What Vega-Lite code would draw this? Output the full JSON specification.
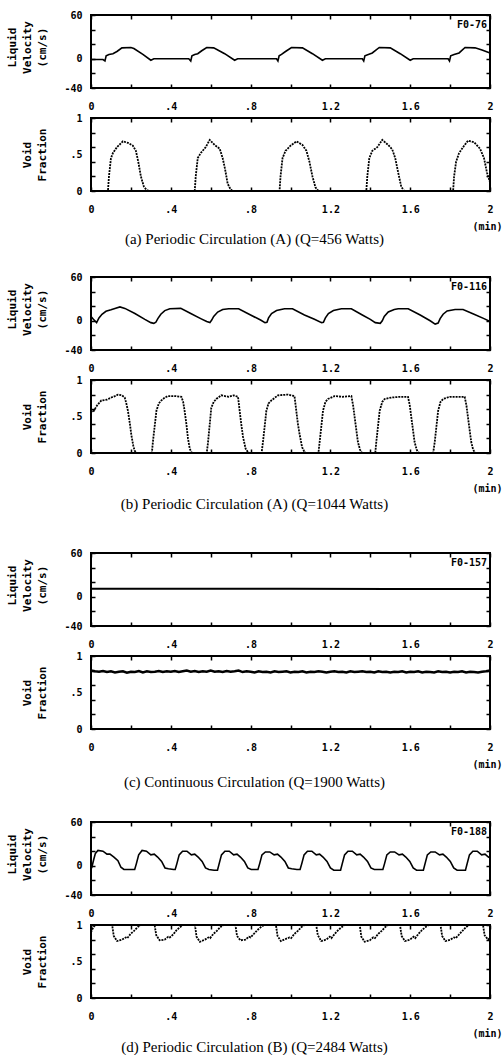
{
"$schema": "https://vega.github.io/schema/vega-lite/v6.json",
"padding": {"left": 5, "top": 9, "right": 0, "bottom": 0},
"config": {
 "view": {"stroke": "black", "strokeWidth": 2},
 "axis": {"domain": false, "grid": false, "tickColor": "black", "tickWidth": 1.5, "tickSize": -4, "labelFont": "DejaVu Sans Mono", "labelFontWeight": "bold", "labelFontSize": 10, "labelColor": "black", "labelOverlap": false, "labelFlush": false, "labelBound": false, "titleFont": "DejaVu Sans Mono", "titleFontWeight": "bold", "titleFontSize": 11, "titleColor": "black"},
 "axisTop": {"labels": false},
 "axisRight": {"labels": false},
 "axisBottom": {"labelPadding": 17},
 "axisLeft": {"labelPadding": 13},
 "title": {"font": "Liberation Serif", "fontSize": 15, "fontWeight": "normal", "color": "black"}
},
"datasets": {
 "velA": [{"t":0,"v":-1},{"t":0.06,"v":-1},{"t":0.07,"v":-3},{"t":0.076,"v":4},{"t":0.09,"v":6},{"t":0.11,"v":7},{"t":0.13,"v":10},{"t":0.155,"v":15},{"t":0.2,"v":15.5},{"t":0.215,"v":14},{"t":0.26,"v":6},{"t":0.3,"v":-2},{"t":0.315,"v":0},{"t":0.4,"v":0},{"t":0.49,"v":0},{"t":0.5,"v":-3},{"t":0.506,"v":4},{"t":0.52,"v":6},{"t":0.535,"v":7},{"t":0.555,"v":11},{"t":0.58,"v":15.5},{"t":0.615,"v":15},{"t":0.67,"v":7},{"t":0.72,"v":-2},{"t":0.735,"v":0},{"t":0.93,"v":0},{"t":0.937,"v":-3},{"t":0.943,"v":4},{"t":0.955,"v":6},{"t":0.975,"v":10},{"t":1.005,"v":15.5},{"t":1.06,"v":15},{"t":1.11,"v":7},{"t":1.16,"v":-2},{"t":1.175,"v":0},{"t":1.36,"v":0},{"t":1.367,"v":-3},{"t":1.373,"v":4},{"t":1.39,"v":6},{"t":1.41,"v":8},{"t":1.445,"v":15.5},{"t":1.5,"v":15},{"t":1.55,"v":7},{"t":1.6,"v":-2},{"t":1.615,"v":0},{"t":1.79,"v":0},{"t":1.797,"v":-3},{"t":1.803,"v":4},{"t":1.82,"v":6},{"t":1.845,"v":8},{"t":1.875,"v":15.5},{"t":1.925,"v":15},{"t":1.96,"v":12},{"t":2.0,"v":8}],
 "voidA": [{"t":0,"v":0},{"t":0.085,"v":0},{"t":0.09,"v":0.2},{"t":0.1,"v":0.45},{"t":0.11,"v":0.52},{"t":0.13,"v":0.6},{"t":0.16,"v":0.68},{"t":0.185,"v":0.66},{"t":0.21,"v":0.62},{"t":0.225,"v":0.55},{"t":0.237,"v":0.4},{"t":0.25,"v":0.2},{"t":0.265,"v":0.06},{"t":0.28,"v":0.01},{"t":0.3,"v":0},{"t":0.52,"v":0},{"t":0.525,"v":0.2},{"t":0.535,"v":0.45},{"t":0.55,"v":0.52},{"t":0.575,"v":0.6},{"t":0.595,"v":0.7},{"t":0.62,"v":0.63},{"t":0.645,"v":0.58},{"t":0.66,"v":0.45},{"t":0.672,"v":0.3},{"t":0.685,"v":0.1},{"t":0.7,"v":0.02},{"t":0.71,"v":0},{"t":0.945,"v":0},{"t":0.95,"v":0.2},{"t":0.96,"v":0.45},{"t":0.975,"v":0.55},{"t":1.0,"v":0.62},{"t":1.03,"v":0.68},{"t":1.06,"v":0.63},{"t":1.08,"v":0.55},{"t":1.095,"v":0.4},{"t":1.11,"v":0.2},{"t":1.125,"v":0.05},{"t":1.14,"v":0},{"t":1.38,"v":0},{"t":1.385,"v":0.2},{"t":1.395,"v":0.45},{"t":1.41,"v":0.55},{"t":1.435,"v":0.6},{"t":1.46,"v":0.7},{"t":1.49,"v":0.63},{"t":1.51,"v":0.57},{"t":1.525,"v":0.45},{"t":1.54,"v":0.25},{"t":1.555,"v":0.06},{"t":1.57,"v":0},{"t":1.815,"v":0},{"t":1.82,"v":0.2},{"t":1.83,"v":0.4},{"t":1.845,"v":0.52},{"t":1.87,"v":0.62},{"t":1.89,"v":0.69},{"t":1.92,"v":0.67},{"t":1.95,"v":0.58},{"t":1.97,"v":0.45},{"t":1.985,"v":0.25},{"t":2.0,"v":0.12}],
 "velB": [{"t":0,"v":6},{"t":0.012,"v":2},{"t":0.028,"v":-2.5},{"t":0.04,"v":4},{"t":0.055,"v":9},{"t":0.075,"v":13},{"t":0.1,"v":15},{"t":0.12,"v":17},{"t":0.145,"v":19},{"t":0.17,"v":17},{"t":0.22,"v":10},{"t":0.27,"v":2},{"t":0.3,"v":-2.5},{"t":0.315,"v":-3.5},{"t":0.325,"v":-2},{"t":0.335,"v":3},{"t":0.35,"v":9},{"t":0.37,"v":14},{"t":0.395,"v":16.5},{"t":0.45,"v":17},{"t":0.5,"v":10},{"t":0.55,"v":3},{"t":0.58,"v":-1},{"t":0.596,"v":-2.5},{"t":0.605,"v":1},{"t":0.615,"v":6},{"t":0.635,"v":12},{"t":0.66,"v":15.5},{"t":0.69,"v":16.5},{"t":0.74,"v":16.5},{"t":0.8,"v":8},{"t":0.85,"v":1},{"t":0.872,"v":-2.5},{"t":0.882,"v":-2},{"t":0.89,"v":4},{"t":0.905,"v":10},{"t":0.93,"v":14},{"t":0.97,"v":16.5},{"t":1.01,"v":16.5},{"t":1.07,"v":8},{"t":1.12,"v":2},{"t":1.156,"v":-2.5},{"t":1.165,"v":-2},{"t":1.175,"v":4},{"t":1.19,"v":10},{"t":1.215,"v":14},{"t":1.255,"v":16.5},{"t":1.305,"v":16.5},{"t":1.36,"v":8},{"t":1.4,"v":2},{"t":1.425,"v":-2.5},{"t":1.45,"v":-3.5},{"t":1.46,"v":0},{"t":1.47,"v":6},{"t":1.49,"v":12},{"t":1.52,"v":15.5},{"t":1.54,"v":16.5},{"t":1.59,"v":16.5},{"t":1.65,"v":8},{"t":1.7,"v":0},{"t":1.725,"v":-4.5},{"t":1.74,"v":-3},{"t":1.75,"v":3},{"t":1.765,"v":9},{"t":1.785,"v":13.5},{"t":1.825,"v":15.5},{"t":1.865,"v":15.5},{"t":1.92,"v":9},{"t":1.97,"v":3},{"t":2.0,"v":-1}],
 "voidB": [{"t":0,"v":0.58},{"t":0.01,"v":0.56},{"t":0.03,"v":0.65},{"t":0.052,"v":0.72},{"t":0.08,"v":0.73},{"t":0.102,"v":0.76},{"t":0.12,"v":0.78},{"t":0.135,"v":0.8},{"t":0.155,"v":0.79},{"t":0.169,"v":0.76},{"t":0.177,"v":0.68},{"t":0.185,"v":0.58},{"t":0.195,"v":0.4},{"t":0.202,"v":0.25},{"t":0.212,"v":0.1},{"t":0.219,"v":0.03},{"t":0.23,"v":0},{"t":0.305,"v":0},{"t":0.311,"v":0.17},{"t":0.328,"v":0.58},{"t":0.34,"v":0.68},{"t":0.353,"v":0.72},{"t":0.37,"v":0.76},{"t":0.386,"v":0.78},{"t":0.42,"v":0.78},{"t":0.453,"v":0.77},{"t":0.462,"v":0.7},{"t":0.469,"v":0.58},{"t":0.478,"v":0.4},{"t":0.486,"v":0.2},{"t":0.495,"v":0.06},{"t":0.503,"v":0.01},{"t":0.51,"v":0},{"t":0.58,"v":0},{"t":0.586,"v":0.13},{"t":0.603,"v":0.62},{"t":0.615,"v":0.7},{"t":0.628,"v":0.74},{"t":0.653,"v":0.79},{"t":0.69,"v":0.77},{"t":0.715,"v":0.79},{"t":0.737,"v":0.77},{"t":0.745,"v":0.58},{"t":0.753,"v":0.4},{"t":0.762,"v":0.22},{"t":0.775,"v":0.06},{"t":0.787,"v":0.01},{"t":0.795,"v":0},{"t":0.855,"v":0},{"t":0.862,"v":0.15},{"t":0.879,"v":0.58},{"t":0.89,"v":0.68},{"t":0.904,"v":0.72},{"t":0.937,"v":0.79},{"t":0.987,"v":0.8},{"t":1.02,"v":0.78},{"t":1.029,"v":0.58},{"t":1.037,"v":0.4},{"t":1.046,"v":0.25},{"t":1.058,"v":0.08},{"t":1.071,"v":0.01},{"t":1.08,"v":0},{"t":1.14,"v":0},{"t":1.146,"v":0.15},{"t":1.163,"v":0.58},{"t":1.175,"v":0.7},{"t":1.188,"v":0.74},{"t":1.221,"v":0.78},{"t":1.26,"v":0.77},{"t":1.305,"v":0.78},{"t":1.314,"v":0.65},{"t":1.322,"v":0.48},{"t":1.338,"v":0.15},{"t":1.348,"v":0.05},{"t":1.355,"v":0.01},{"t":1.365,"v":0},{"t":1.425,"v":0},{"t":1.43,"v":0.15},{"t":1.447,"v":0.58},{"t":1.46,"v":0.7},{"t":1.472,"v":0.74},{"t":1.506,"v":0.76},{"t":1.55,"v":0.77},{"t":1.589,"v":0.77},{"t":1.598,"v":0.65},{"t":1.606,"v":0.48},{"t":1.622,"v":0.15},{"t":1.632,"v":0.05},{"t":1.639,"v":0.01},{"t":1.65,"v":0},{"t":1.715,"v":0},{"t":1.723,"v":0.15},{"t":1.74,"v":0.58},{"t":1.752,"v":0.7},{"t":1.765,"v":0.74},{"t":1.798,"v":0.77},{"t":1.84,"v":0.77},{"t":1.873,"v":0.77},{"t":1.882,"v":0.65},{"t":1.89,"v":0.48},{"t":1.906,"v":0.15},{"t":1.915,"v":0.05},{"t":1.923,"v":0.01},{"t":1.93,"v":0},{"t":2.0,"v":0}],
 "velC": [{"t":0,"v":11},{"t":0.5,"v":11},{"t":1.0,"v":11},{"t":1.5,"v":10.8},{"t":2.0,"v":10.8}],
 "voidC": [{"t":0,"v":0.8},{"t":0.02,"v":0.79},{"t":0.04,"v":0.785},{"t":0.06,"v":0.795},{"t":0.08,"v":0.78},{"t":0.1,"v":0.79},{"t":0.12,"v":0.775},{"t":0.14,"v":0.785},{"t":0.16,"v":0.79},{"t":0.18,"v":0.77},{"t":0.2,"v":0.785},{"t":0.22,"v":0.78},{"t":0.24,"v":0.795},{"t":0.26,"v":0.775},{"t":0.28,"v":0.79},{"t":0.3,"v":0.78},{"t":0.32,"v":0.785},{"t":0.34,"v":0.795},{"t":0.36,"v":0.78},{"t":0.38,"v":0.79},{"t":0.4,"v":0.785},{"t":0.42,"v":0.795},{"t":0.44,"v":0.78},{"t":0.46,"v":0.79},{"t":0.48,"v":0.8},{"t":0.5,"v":0.785},{"t":0.52,"v":0.795},{"t":0.54,"v":0.78},{"t":0.56,"v":0.79},{"t":0.58,"v":0.785},{"t":0.6,"v":0.8},{"t":0.62,"v":0.785},{"t":0.64,"v":0.79},{"t":0.66,"v":0.78},{"t":0.68,"v":0.795},{"t":0.7,"v":0.785},{"t":0.72,"v":0.79},{"t":0.74,"v":0.8},{"t":0.76,"v":0.78},{"t":0.78,"v":0.79},{"t":0.8,"v":0.785},{"t":0.82,"v":0.775},{"t":0.84,"v":0.79},{"t":0.86,"v":0.78},{"t":0.88,"v":0.785},{"t":0.9,"v":0.775},{"t":0.92,"v":0.79},{"t":0.94,"v":0.78},{"t":0.96,"v":0.785},{"t":0.98,"v":0.79},{"t":1.0,"v":0.775},{"t":1.02,"v":0.785},{"t":1.04,"v":0.78},{"t":1.06,"v":0.79},{"t":1.08,"v":0.775},{"t":1.1,"v":0.785},{"t":1.12,"v":0.78},{"t":1.14,"v":0.79},{"t":1.16,"v":0.785},{"t":1.18,"v":0.775},{"t":1.2,"v":0.785},{"t":1.22,"v":0.79},{"t":1.24,"v":0.78},{"t":1.26,"v":0.785},{"t":1.28,"v":0.775},{"t":1.3,"v":0.79},{"t":1.32,"v":0.78},{"t":1.34,"v":0.785},{"t":1.36,"v":0.79},{"t":1.38,"v":0.78},{"t":1.4,"v":0.785},{"t":1.42,"v":0.775},{"t":1.44,"v":0.79},{"t":1.46,"v":0.78},{"t":1.48,"v":0.785},{"t":1.5,"v":0.775},{"t":1.52,"v":0.785},{"t":1.54,"v":0.78},{"t":1.56,"v":0.79},{"t":1.58,"v":0.775},{"t":1.6,"v":0.785},{"t":1.62,"v":0.78},{"t":1.64,"v":0.79},{"t":1.66,"v":0.775},{"t":1.68,"v":0.785},{"t":1.7,"v":0.78},{"t":1.72,"v":0.775},{"t":1.74,"v":0.79},{"t":1.76,"v":0.78},{"t":1.78,"v":0.785},{"t":1.8,"v":0.775},{"t":1.82,"v":0.785},{"t":1.84,"v":0.78},{"t":1.86,"v":0.79},{"t":1.88,"v":0.775},{"t":1.9,"v":0.785},{"t":1.92,"v":0.78},{"t":1.94,"v":0.775},{"t":1.96,"v":0.785},{"t":1.98,"v":0.79},{"t":2.0,"v":0.8}],
 "velD": [{"t":0,"v":5},{"t":0.006,"v":0},{"t":0.013,"v":8},{"t":0.022,"v":17},{"t":0.035,"v":21},{"t":0.06,"v":20},{"t":0.08,"v":16},{"t":0.095,"v":16},{"t":0.115,"v":12},{"t":0.135,"v":7},{"t":0.15,"v":-2},{"t":0.165,"v":-5},{"t":0.21,"v":-5},
  {"t":0.219,"v":-5},{"t":0.2275,"v":3},{"t":0.239,"v":15},{"t":0.256,"v":21},{"t":0.278,"v":20},{"t":0.3,"v":15},{"t":0.317,"v":16},{"t":0.334,"v":12},{"t":0.354,"v":6},{"t":0.371,"v":-3},{"t":0.388,"v":-4},{"t":0.414,"v":-5},
  {"t":0.422,"v":-5},{"t":0.4305,"v":3},{"t":0.442,"v":15},{"t":0.459,"v":20},{"t":0.481,"v":20},{"t":0.503,"v":15},{"t":0.52,"v":16},{"t":0.537,"v":12},{"t":0.557,"v":6},{"t":0.574,"v":-3},{"t":0.591,"v":-5},{"t":0.617,"v":-6},
  {"t":0.634,"v":-6},{"t":0.6425,"v":3},{"t":0.654,"v":15},{"t":0.671,"v":20},{"t":0.693,"v":20},{"t":0.715,"v":15},{"t":0.732,"v":16},{"t":0.749,"v":12},{"t":0.769,"v":6},{"t":0.786,"v":-3},{"t":0.803,"v":-5},{"t":0.829,"v":-5},
  {"t":0.837,"v":-5},{"t":0.8455,"v":3},{"t":0.857,"v":15},{"t":0.874,"v":19},{"t":0.896,"v":19},{"t":0.918,"v":15},{"t":0.935,"v":16},{"t":0.952,"v":12},{"t":0.972,"v":6},{"t":0.989,"v":-3},{"t":1.006,"v":-4},{"t":1.032,"v":-5},
  {"t":1.048,"v":-5},{"t":1.0565,"v":3},{"t":1.068,"v":15},{"t":1.085,"v":20},{"t":1.107,"v":20},{"t":1.129,"v":15},{"t":1.146,"v":16},{"t":1.163,"v":12},{"t":1.183,"v":6},{"t":1.2,"v":-3},{"t":1.217,"v":-6},{"t":1.243,"v":-6},
  {"t":1.251,"v":-6},{"t":1.2595,"v":3},{"t":1.271,"v":15},{"t":1.288,"v":20},{"t":1.31,"v":20},{"t":1.332,"v":15},{"t":1.349,"v":16},{"t":1.366,"v":12},{"t":1.386,"v":6},{"t":1.403,"v":-3},{"t":1.42,"v":-5},{"t":1.446,"v":-5},
  {"t":1.463,"v":-5},{"t":1.4715,"v":3},{"t":1.483,"v":15},{"t":1.5,"v":19},{"t":1.522,"v":19},{"t":1.544,"v":15},{"t":1.561,"v":16},{"t":1.578,"v":12},{"t":1.598,"v":6},{"t":1.615,"v":-3},{"t":1.632,"v":-6},{"t":1.658,"v":-6},
  {"t":1.666,"v":-6},{"t":1.6745,"v":3},{"t":1.686,"v":15},{"t":1.703,"v":19},{"t":1.725,"v":19},{"t":1.747,"v":15},{"t":1.764,"v":16},{"t":1.781,"v":12},{"t":1.801,"v":6},{"t":1.818,"v":-3},{"t":1.835,"v":-6},{"t":1.861,"v":-6},
  {"t":1.877,"v":-6},{"t":1.8855,"v":3},{"t":1.897,"v":15},{"t":1.914,"v":20},{"t":1.936,"v":20},{"t":1.958,"v":15},{"t":1.975,"v":16},{"t":1.992,"v":12},{"t":2.0,"v":11}],
 "voidD": [{"t":0,"v":0.9},{"t":0.008,"v":0.95},{"t":0.02,"v":1},
  {"t":0.106,"v":1},{"t":0.114,"v":0.85},{"t":0.131,"v":0.78},{"t":0.156,"v":0.8},{"t":0.174,"v":0.83},{"t":0.182,"v":0.82},{"t":0.199,"v":0.88},{"t":0.216,"v":0.92},{"t":0.233,"v":0.97},{"t":0.249,"v":1},
  {"t":0.319,"v":1},{"t":0.327,"v":0.86},{"t":0.344,"v":0.79},{"t":0.369,"v":0.8},{"t":0.387,"v":0.84},{"t":0.395,"v":0.83},{"t":0.412,"v":0.87},{"t":0.429,"v":0.93},{"t":0.446,"v":0.97},{"t":0.462,"v":1},
  {"t":0.521,"v":1},{"t":0.529,"v":0.84},{"t":0.546,"v":0.77},{"t":0.571,"v":0.8},{"t":0.589,"v":0.83},{"t":0.597,"v":0.82},{"t":0.614,"v":0.88},{"t":0.631,"v":0.92},{"t":0.648,"v":0.97},{"t":0.664,"v":1},
  {"t":0.724,"v":1},{"t":0.732,"v":0.85},{"t":0.749,"v":0.79},{"t":0.774,"v":0.8},{"t":0.792,"v":0.84},{"t":0.8,"v":0.83},{"t":0.817,"v":0.88},{"t":0.834,"v":0.93},{"t":0.851,"v":0.97},{"t":0.867,"v":1},
  {"t":0.927,"v":1},{"t":0.935,"v":0.85},{"t":0.952,"v":0.78},{"t":0.977,"v":0.81},{"t":0.995,"v":0.83},{"t":1.003,"v":0.82},{"t":1.02,"v":0.88},{"t":1.037,"v":0.92},{"t":1.054,"v":0.97},{"t":1.07,"v":1},
  {"t":1.129,"v":1},{"t":1.137,"v":0.86},{"t":1.154,"v":0.78},{"t":1.179,"v":0.8},{"t":1.197,"v":0.84},{"t":1.205,"v":0.82},{"t":1.222,"v":0.88},{"t":1.239,"v":0.93},{"t":1.256,"v":0.97},{"t":1.272,"v":1},
  {"t":1.347,"v":1},{"t":1.355,"v":0.84},{"t":1.372,"v":0.77},{"t":1.397,"v":0.79},{"t":1.415,"v":0.83},{"t":1.423,"v":0.82},{"t":1.44,"v":0.88},{"t":1.457,"v":0.92},{"t":1.474,"v":0.97},{"t":1.49,"v":1},
  {"t":1.549,"v":1},{"t":1.557,"v":0.85},{"t":1.574,"v":0.78},{"t":1.599,"v":0.8},{"t":1.617,"v":0.84},{"t":1.625,"v":0.82},{"t":1.642,"v":0.88},{"t":1.659,"v":0.93},{"t":1.676,"v":0.97},{"t":1.692,"v":1},
  {"t":1.752,"v":1},{"t":1.76,"v":0.85},{"t":1.777,"v":0.78},{"t":1.802,"v":0.8},{"t":1.82,"v":0.83},{"t":1.828,"v":0.82},{"t":1.845,"v":0.87},{"t":1.862,"v":0.92},{"t":1.879,"v":0.97},{"t":1.895,"v":1},
  {"t":1.965,"v":1},{"t":1.973,"v":0.86},{"t":1.99,"v":0.8},{"t":2.0,"v":0.82}]
},
"spacing": 35,
"vconcat": [
 {"spacing": 24,
  "vconcat": [
 {"title": {"text": "(a) Periodic Circulation (A) (Q=456 Watts)", "orient": "bottom", "anchor": "middle", "frame": "bounds", "offset": 0},
  "spacing": 0,
  "vconcat": [
   {"width": 399, "height": 73, "data": {"name": "velA"},
    "layer": [
     {"mark": {"type": "line", "color": "black", "strokeWidth": 1.6},
      "encoding": {
       "x": {"field": "t", "type": "quantitative", "scale": {"domain": [0, 2], "nice": false}, "axis": {"orient": "bottom", "title": null, "values": [0,0.2,0.4,0.6,0.8,1,1.2,1.4,1.6,1.8,2], "labelExpr": "datum.value==0?'0':datum.value==2?'2':(round(datum.value*10)%4==0?replace(format(datum.value,'.1f'),'0.','.'):'')"}},
       "y": {"field": "v", "type": "quantitative", "scale": {"domain": [-40, 60], "nice": false}, "axis": {"orient": "left", "values": [-40,-20,0,20,40,60], "labelExpr": "datum.value==60?'60':datum.value==0?'0':datum.value==-40?'-40':''", "title": ["Liquid", "Velocity", "(cm/s)"], "titlePadding": 16, "titleLineHeight": 15, "titleY": 32}}}},
     {"mark": {"type": "line", "opacity": 0},
      "encoding": {
       "x": {"field": "t", "type": "quantitative", "axis": {"orient": "top", "title": null, "values": [0,0.2,0.4,0.6,0.8,1,1.2,1.4,1.6,1.8,2]}},
       "y": {"field": "v", "type": "quantitative", "axis": {"orient": "right", "title": null, "values": [-40,-20,0,20,40,60]}}}},
     {"data": {"values": [{"t": 1.985, "v": 46, "run": "F0-76"}]},
      "mark": {"type": "text", "align": "right", "baseline": "middle", "font": "DejaVu Sans Mono", "fontWeight": "bold", "fontSize": 10, "color": "black"},
      "encoding": {"x": {"field": "t", "type": "quantitative", "axis": null}, "y": {"field": "v", "type": "quantitative", "axis": null}, "text": {"field": "run"}}}
    ],
    "resolve": {"axis": {"x": "independent", "y": "independent"}}},
   {"width": 399, "height": 73, "data": {"name": "voidA"},
    "layer": [
     {"mark": {"type": "line", "color": "black", "strokeWidth": 1.8, "strokeDash": [2, 1]},
      "encoding": {
       "x": {"field": "t", "type": "quantitative", "scale": {"domain": [0, 2], "nice": false}, "axis": {"orient": "bottom", "values": [0,0.2,0.4,0.6,0.8,1,1.2,1.4,1.6,1.8,2], "labelExpr": "datum.value==0?'0':datum.value==2?'2':(round(datum.value*10)%4==0?replace(format(datum.value,'.1f'),'0.','.'):'')", "title": "(min)", "titleFontSize": 10, "titleX": 411, "titleY": 35, "titleAlign": "right", "titleBaseline": "middle", "titleAngle": 0}},
       "y": {"field": "v", "type": "quantitative", "scale": {"domain": [0, 1], "nice": false}, "axis": {"orient": "left", "values": [0,0.2,0.4,0.5,0.6,0.8,1], "labelExpr": "datum.value==1?'1':datum.value==0.5?'.5':datum.value==0?'0':''", "tickOpacity": {"condition": {"test": "datum.value==0.5", "value": 0}, "value": 1}, "title": ["Void", "Fraction"], "titlePadding": 22, "titleLineHeight": 15}}}},
     {"mark": {"type": "line", "opacity": 0},
      "encoding": {
       "x": {"field": "t", "type": "quantitative", "axis": {"orient": "top", "title": null, "values": [0,0.2,0.4,0.6,0.8,1,1.2,1.4,1.6,1.8,2]}},
       "y": {"field": "v", "type": "quantitative", "axis": {"orient": "right", "title": null, "values": [0,0.2,0.4,0.6,0.8,1]}}}}
    ],
    "resolve": {"axis": {"x": "independent", "y": "independent"}}}
  ]},
 {"title": {"text": "(b) Periodic Circulation (A) (Q=1044 Watts)", "orient": "bottom", "anchor": "middle", "frame": "bounds", "offset": 3},
  "spacing": 0,
  "vconcat": [
   {"width": 399, "height": 73, "data": {"name": "velB"},
    "layer": [
     {"mark": {"type": "line", "color": "black", "strokeWidth": 1.6},
      "encoding": {
       "x": {"field": "t", "type": "quantitative", "scale": {"domain": [0, 2], "nice": false}, "axis": {"orient": "bottom", "title": null, "values": [0,0.2,0.4,0.6,0.8,1,1.2,1.4,1.6,1.8,2], "labelExpr": "datum.value==0?'0':datum.value==2?'2':(round(datum.value*10)%4==0?replace(format(datum.value,'.1f'),'0.','.'):'')"}},
       "y": {"field": "v", "type": "quantitative", "scale": {"domain": [-40, 60], "nice": false}, "axis": {"orient": "left", "values": [-40,-20,0,20,40,60], "labelExpr": "datum.value==60?'60':datum.value==0?'0':datum.value==-40?'-40':''", "title": ["Liquid", "Velocity", "(cm/s)"], "titlePadding": 16, "titleLineHeight": 15, "titleY": 32}}}},
     {"mark": {"type": "line", "opacity": 0},
      "encoding": {
       "x": {"field": "t", "type": "quantitative", "axis": {"orient": "top", "title": null, "values": [0,0.2,0.4,0.6,0.8,1,1.2,1.4,1.6,1.8,2]}},
       "y": {"field": "v", "type": "quantitative", "axis": {"orient": "right", "title": null, "values": [-40,-20,0,20,40,60]}}}},
     {"data": {"values": [{"t": 1.985, "v": 46, "run": "F0-116"}]},
      "mark": {"type": "text", "align": "right", "baseline": "middle", "font": "DejaVu Sans Mono", "fontWeight": "bold", "fontSize": 10, "color": "black"},
      "encoding": {"x": {"field": "t", "type": "quantitative", "axis": null}, "y": {"field": "v", "type": "quantitative", "axis": null}, "text": {"field": "run"}}}
    ],
    "resolve": {"axis": {"x": "independent", "y": "independent"}}},
   {"width": 399, "height": 73, "data": {"name": "voidB"},
    "layer": [
     {"mark": {"type": "line", "color": "black", "strokeWidth": 1.8, "strokeDash": [2, 1]},
      "encoding": {
       "x": {"field": "t", "type": "quantitative", "scale": {"domain": [0, 2], "nice": false}, "axis": {"orient": "bottom", "values": [0,0.2,0.4,0.6,0.8,1,1.2,1.4,1.6,1.8,2], "labelExpr": "datum.value==0?'0':datum.value==2?'2':(round(datum.value*10)%4==0?replace(format(datum.value,'.1f'),'0.','.'):'')", "title": "(min)", "titleFontSize": 10, "titleX": 411, "titleY": 35, "titleAlign": "right", "titleBaseline": "middle", "titleAngle": 0}},
       "y": {"field": "v", "type": "quantitative", "scale": {"domain": [0, 1], "nice": false}, "axis": {"orient": "left", "values": [0,0.2,0.4,0.5,0.6,0.8,1], "labelExpr": "datum.value==1?'1':datum.value==0.5?'.5':datum.value==0?'0':''", "tickOpacity": {"condition": {"test": "datum.value==0.5", "value": 0}, "value": 1}, "title": ["Void", "Fraction"], "titlePadding": 22, "titleLineHeight": 15}}}},
     {"mark": {"type": "line", "opacity": 0},
      "encoding": {
       "x": {"field": "t", "type": "quantitative", "axis": {"orient": "top", "title": null, "values": [0,0.2,0.4,0.6,0.8,1,1.2,1.4,1.6,1.8,2]}},
       "y": {"field": "v", "type": "quantitative", "axis": {"orient": "right", "title": null, "values": [0,0.2,0.4,0.6,0.8,1]}}}}
    ],
    "resolve": {"axis": {"x": "independent", "y": "independent"}}}
  ]}
  ]},
 {"spacing": 26,
  "vconcat": [
 {"title": {"text": "(c) Continuous Circulation (Q=1900 Watts)", "orient": "bottom", "anchor": "middle", "frame": "bounds", "offset": 5},
  "spacing": 0,
  "vconcat": [
   {"width": 399, "height": 73, "data": {"name": "velC"},
    "layer": [
     {"mark": {"type": "line", "color": "black", "strokeWidth": 2},
      "encoding": {
       "x": {"field": "t", "type": "quantitative", "scale": {"domain": [0, 2], "nice": false}, "axis": {"orient": "bottom", "title": null, "values": [0,0.2,0.4,0.6,0.8,1,1.2,1.4,1.6,1.8,2], "labelExpr": "datum.value==0?'0':datum.value==2?'2':(round(datum.value*10)%4==0?replace(format(datum.value,'.1f'),'0.','.'):'')"}},
       "y": {"field": "v", "type": "quantitative", "scale": {"domain": [-40, 60], "nice": false}, "axis": {"orient": "left", "values": [-40,-20,0,20,40,60], "labelExpr": "datum.value==60?'60':datum.value==0?'0':datum.value==-40?'-40':''", "title": ["Liquid", "Velocity", "(cm/s)"], "titlePadding": 16, "titleLineHeight": 15, "titleY": 32}}}},
     {"mark": {"type": "line", "opacity": 0},
      "encoding": {
       "x": {"field": "t", "type": "quantitative", "axis": {"orient": "top", "title": null, "values": [0,0.2,0.4,0.6,0.8,1,1.2,1.4,1.6,1.8,2]}},
       "y": {"field": "v", "type": "quantitative", "axis": {"orient": "right", "title": null, "values": [-40,-20,0,20,40,60]}}}},
     {"data": {"values": [{"t": 1.985, "v": 46, "run": "F0-157"}]},
      "mark": {"type": "text", "align": "right", "baseline": "middle", "font": "DejaVu Sans Mono", "fontWeight": "bold", "fontSize": 10, "color": "black"},
      "encoding": {"x": {"field": "t", "type": "quantitative", "axis": null}, "y": {"field": "v", "type": "quantitative", "axis": null}, "text": {"field": "run"}}}
    ],
    "resolve": {"axis": {"x": "independent", "y": "independent"}}},
   {"width": 399, "height": 73, "data": {"name": "voidC"},
    "layer": [
     {"mark": {"type": "line", "color": "black", "strokeWidth": 2.5},
      "encoding": {
       "x": {"field": "t", "type": "quantitative", "scale": {"domain": [0, 2], "nice": false}, "axis": {"orient": "bottom", "values": [0,0.2,0.4,0.6,0.8,1,1.2,1.4,1.6,1.8,2], "labelExpr": "datum.value==0?'0':datum.value==2?'2':(round(datum.value*10)%4==0?replace(format(datum.value,'.1f'),'0.','.'):'')", "title": "(min)", "titleFontSize": 10, "titleX": 411, "titleY": 35, "titleAlign": "right", "titleBaseline": "middle", "titleAngle": 0}},
       "y": {"field": "v", "type": "quantitative", "scale": {"domain": [0, 1], "nice": false}, "axis": {"orient": "left", "values": [0,0.2,0.4,0.5,0.6,0.8,1], "labelExpr": "datum.value==1?'1':datum.value==0.5?'.5':datum.value==0?'0':''", "tickOpacity": {"condition": {"test": "datum.value==0.5", "value": 0}, "value": 1}, "title": ["Void", "Fraction"], "titlePadding": 22, "titleLineHeight": 15}}}},
     {"mark": {"type": "line", "opacity": 0},
      "encoding": {
       "x": {"field": "t", "type": "quantitative", "axis": {"orient": "top", "title": null, "values": [0,0.2,0.4,0.6,0.8,1,1.2,1.4,1.6,1.8,2]}},
       "y": {"field": "v", "type": "quantitative", "axis": {"orient": "right", "title": null, "values": [0,0.2,0.4,0.6,0.8,1]}}}}
    ],
    "resolve": {"axis": {"x": "independent", "y": "independent"}}}
  ]},
 {"title": {"text": "(d) Periodic Circulation (B) (Q=2484 Watts)", "orient": "bottom", "anchor": "middle", "frame": "bounds", "offset": 1},
  "spacing": 0,
  "vconcat": [
   {"width": 399, "height": 73, "data": {"name": "velD"},
    "layer": [
     {"mark": {"type": "line", "color": "black", "strokeWidth": 1.6},
      "encoding": {
       "x": {"field": "t", "type": "quantitative", "scale": {"domain": [0, 2], "nice": false}, "axis": {"orient": "bottom", "title": null, "values": [0,0.2,0.4,0.6,0.8,1,1.2,1.4,1.6,1.8,2], "labelExpr": "datum.value==0?'0':datum.value==2?'2':(round(datum.value*10)%4==0?replace(format(datum.value,'.1f'),'0.','.'):'')"}},
       "y": {"field": "v", "type": "quantitative", "scale": {"domain": [-40, 60], "nice": false}, "axis": {"orient": "left", "values": [-40,-20,0,20,40,60], "labelExpr": "datum.value==60?'60':datum.value==0?'0':datum.value==-40?'-40':''", "title": ["Liquid", "Velocity", "(cm/s)"], "titlePadding": 16, "titleLineHeight": 15, "titleY": 32}}}},
     {"mark": {"type": "line", "opacity": 0},
      "encoding": {
       "x": {"field": "t", "type": "quantitative", "axis": {"orient": "top", "title": null, "values": [0,0.2,0.4,0.6,0.8,1,1.2,1.4,1.6,1.8,2]}},
       "y": {"field": "v", "type": "quantitative", "axis": {"orient": "right", "title": null, "values": [-40,-20,0,20,40,60]}}}},
     {"data": {"values": [{"t": 1.985, "v": 46, "run": "F0-188"}]},
      "mark": {"type": "text", "align": "right", "baseline": "middle", "font": "DejaVu Sans Mono", "fontWeight": "bold", "fontSize": 10, "color": "black"},
      "encoding": {"x": {"field": "t", "type": "quantitative", "axis": null}, "y": {"field": "v", "type": "quantitative", "axis": null}, "text": {"field": "run"}}}
    ],
    "resolve": {"axis": {"x": "independent", "y": "independent"}}},
   {"width": 399, "height": 73, "data": {"name": "voidD"},
    "layer": [
     {"mark": {"type": "line", "color": "black", "strokeWidth": 1.8, "strokeDash": [2, 1]},
      "encoding": {
       "x": {"field": "t", "type": "quantitative", "scale": {"domain": [0, 2], "nice": false}, "axis": {"orient": "bottom", "values": [0,0.2,0.4,0.6,0.8,1,1.2,1.4,1.6,1.8,2], "labelExpr": "datum.value==0?'0':datum.value==2?'2':(round(datum.value*10)%4==0?replace(format(datum.value,'.1f'),'0.','.'):'')", "title": "(min)", "titleFontSize": 10, "titleX": 411, "titleY": 35, "titleAlign": "right", "titleBaseline": "middle", "titleAngle": 0}},
       "y": {"field": "v", "type": "quantitative", "scale": {"domain": [0, 1], "nice": false}, "axis": {"orient": "left", "values": [0,0.2,0.4,0.5,0.6,0.8,1], "labelExpr": "datum.value==1?'1':datum.value==0.5?'.5':datum.value==0?'0':''", "tickOpacity": {"condition": {"test": "datum.value==0.5", "value": 0}, "value": 1}, "title": ["Void", "Fraction"], "titlePadding": 22, "titleLineHeight": 15}}}},
     {"mark": {"type": "line", "opacity": 0},
      "encoding": {
       "x": {"field": "t", "type": "quantitative", "axis": {"orient": "top", "title": null, "values": [0,0.2,0.4,0.6,0.8,1,1.2,1.4,1.6,1.8,2]}},
       "y": {"field": "v", "type": "quantitative", "axis": {"orient": "right", "title": null, "values": [0,0.2,0.4,0.6,0.8,1]}}}}
    ],
    "resolve": {"axis": {"x": "independent", "y": "independent"}}}
  ]}
  ]}
]
}
